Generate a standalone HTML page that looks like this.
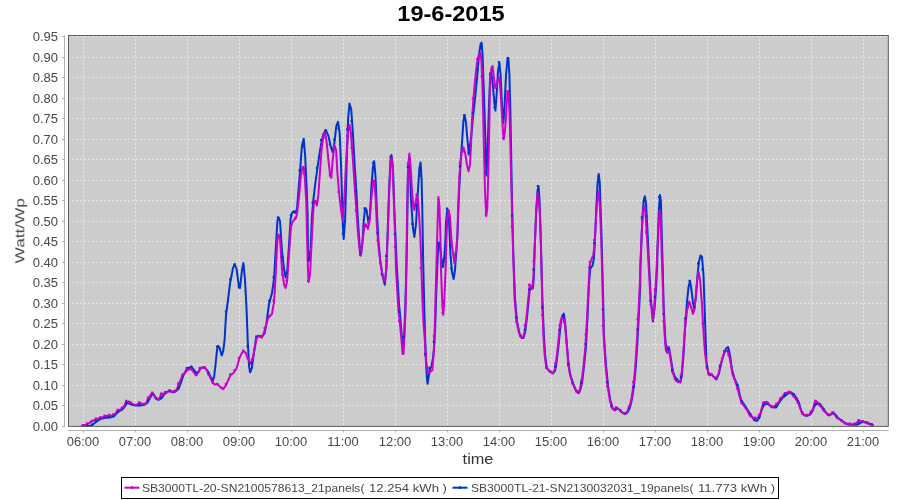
<!DOCTYPE html><html><head><meta charset="utf-8"><title>19-6-2015</title><style>
html,body{margin:0;padding:0;background:#ffffff;}
body{width:900px;height:500px;position:relative;overflow:hidden;font-family:"Liberation Sans",sans-serif;}
.t{position:absolute;white-space:nowrap;line-height:1;color:#484848;will-change:transform;}
.yl{font-size:12px;width:40px;text-align:right;left:17.6px;transform-origin:100% 50%;transform:scaleX(1.085);}
.xl{font-size:12px;width:60px;text-align:center;top:436px;transform:scaleX(1.08);}
</style></head><body>
<svg width="900" height="500" viewBox="0 0 900 500" style="position:absolute;left:0;top:0"><rect x="68.5" y="35.5" width="819.8" height="390.9" fill="#cccccc"/><g stroke="#ffffff" stroke-width="1" stroke-opacity="0.5" stroke-dasharray="2,2" fill="none"><line x1="68" y1="426.5" x2="888" y2="426.5"/><line x1="68" y1="405.5" x2="888" y2="405.5"/><line x1="68" y1="385.5" x2="888" y2="385.5"/><line x1="68" y1="364.5" x2="888" y2="364.5"/><line x1="68" y1="344.5" x2="888" y2="344.5"/><line x1="68" y1="323.5" x2="888" y2="323.5"/><line x1="68" y1="303.5" x2="888" y2="303.5"/><line x1="68" y1="282.5" x2="888" y2="282.5"/><line x1="68" y1="262.5" x2="888" y2="262.5"/><line x1="68" y1="241.5" x2="888" y2="241.5"/><line x1="68" y1="221.5" x2="888" y2="221.5"/><line x1="68" y1="200.5" x2="888" y2="200.5"/><line x1="68" y1="180.5" x2="888" y2="180.5"/><line x1="68" y1="159.5" x2="888" y2="159.5"/><line x1="68" y1="139.5" x2="888" y2="139.5"/><line x1="68" y1="118.5" x2="888" y2="118.5"/><line x1="68" y1="98.5" x2="888" y2="98.5"/><line x1="68" y1="77.5" x2="888" y2="77.5"/><line x1="68" y1="57.5" x2="888" y2="57.5"/><line x1="68" y1="36.5" x2="888" y2="36.5"/><line x1="83.5" y1="35" x2="83.5" y2="426"/><line x1="135.5" y1="35" x2="135.5" y2="426"/><line x1="187.5" y1="35" x2="187.5" y2="426"/><line x1="239.5" y1="35" x2="239.5" y2="426"/><line x1="291.5" y1="35" x2="291.5" y2="426"/><line x1="343.5" y1="35" x2="343.5" y2="426"/><line x1="395.5" y1="35" x2="395.5" y2="426"/><line x1="447.5" y1="35" x2="447.5" y2="426"/><line x1="499.5" y1="35" x2="499.5" y2="426"/><line x1="551.5" y1="35" x2="551.5" y2="426"/><line x1="603.5" y1="35" x2="603.5" y2="426"/><line x1="655.5" y1="35" x2="655.5" y2="426"/><line x1="707.5" y1="35" x2="707.5" y2="426"/><line x1="759.5" y1="35" x2="759.5" y2="426"/><line x1="811.5" y1="35" x2="811.5" y2="426"/><line x1="863.5" y1="35" x2="863.5" y2="426"/></g><path d="M82.4,426.0 L91.4,425.8 L95.6,422.2 L100.4,419.0 L105.2,417.8 L110.6,417.4 L114.2,416.2 L117.8,412.0 L121.4,410.2 L124.4,407.2 L126.8,403.0 L129.8,403.8 L132.8,405.0 L135.8,405.6 L140.0,405.4 L144.2,404.8 L147.2,403.0 L149.6,398.8 L152.0,394.6 L153.2,394.0 L155.6,398.2 L158.6,400.0 L161.6,398.2 L164.0,394.6 L166.4,392.2 L169.4,391.0 L173.0,392.2 L175.5,391.5 L178.4,389.0 L180.5,383.9 L183.3,375.5 L186.8,368.9 L191.3,366.7 L193.8,369.9 L196.6,373.7 L198.7,371.3 L200.8,367.8 L204.8,367.5 L207.8,371.3 L210.6,376.9 L212.7,381.5 L214.1,376.9 L215.5,365.0 L216.9,351.0 L218.0,345.8 L219.7,348.2 L221.8,355.5 L223.2,351.0 L224.6,339.8 L226.0,315.0 L228.0,300.0 L230.0,283.6 L233.0,268.0 L234.6,264.0 L236.6,269.0 L239.0,287.4 L240.0,288.0 L242.0,270.0 L243.4,263.0 L245.0,280.0 L246.6,310.0 L247.7,340.0 L249.1,366.4 L250.1,372.3 L251.9,367.8 L254.0,352.4 L256.1,337.7 L258.2,335.6 L261.7,337.0 L264.5,333.5 L266.6,322.0 L269.0,304.0 L272.0,293.0 L274.0,279.0 L276.0,245.0 L277.4,221.0 L278.6,217.4 L280.0,221.0 L282.0,251.0 L284.0,269.0 L285.6,277.4 L287.0,274.0 L289.0,245.0 L290.6,219.0 L292.0,213.0 L293.4,211.4 L295.4,213.0 L297.0,209.0 L298.4,191.0 L300.0,171.8 L302.0,145.4 L303.7,138.7 L305.1,155.0 L306.8,191.0 L307.6,215.0 L308.0,250.0 L308.8,261.0 L310.6,250.0 L312.0,215.0 L313.3,200.6 L315.2,183.8 L316.9,171.8 L319.3,155.0 L321.7,140.6 L323.6,133.4 L326.0,130.5 L328.4,135.8 L330.8,146.6 L332.7,152.1 L334.4,143.0 L336.3,126.2 L338.0,121.9 L339.7,133.4 L341.1,167.0 L342.2,203.0 L342.8,225.0 L343.7,239.0 L345.1,220.0 L345.9,191.0 L346.9,155.0 L348.1,119.0 L349.5,103.4 L351.2,109.4 L352.9,133.4 L354.8,167.0 L356.2,188.0 L357.9,220.0 L359.6,245.1 L361.0,254.9 L362.4,242.3 L363.8,220.0 L365.2,207.9 L366.6,210.1 L368.6,224.1 L370.0,214.3 L371.4,186.4 L373.0,166.8 L374.2,161.2 L375.6,178.0 L377.0,214.3 L378.4,239.5 L380.3,261.9 L382.6,275.9 L384.8,284.8 L386.2,270.3 L387.6,233.9 L389.0,192.0 L390.4,161.2 L391.5,155.0 L392.9,166.8 L394.3,205.9 L395.2,230.0 L397.0,270.0 L399.0,304.0 L400.6,321.7 L402.5,344.5 L404.1,336.9 L405.2,310.0 L406.0,280.0 L407.0,240.0 L408.0,172.0 L409.3,157.0 L410.0,172.0 L411.0,200.0 L413.0,228.0 L414.4,237.0 L416.0,224.0 L418.0,190.0 L419.4,168.0 L420.6,162.4 L421.6,180.0 L422.3,210.0 L422.8,240.0 L423.2,262.0 L424.2,305.0 L425.2,340.0 L426.0,362.0 L426.9,378.0 L427.6,383.8 L428.7,376.6 L430.0,368.5 L431.4,366.7 L433.0,358.0 L434.1,347.8 L435.2,328.0 L436.0,300.0 L436.8,280.0 L438.0,250.0 L439.0,242.4 L440.0,246.0 L441.6,260.0 L443.0,267.0 L444.4,256.0 L445.5,238.0 L446.0,222.0 L447.4,209.0 L448.6,211.0 L449.5,232.0 L450.4,254.0 L452.0,272.0 L453.6,279.0 L455.0,270.0 L456.4,250.0 L457.6,232.0 L458.5,205.0 L459.8,176.7 L461.0,157.0 L462.2,140.0 L463.4,121.0 L464.6,115.0 L466.0,123.0 L467.0,135.0 L467.8,142.6 L468.9,154.7 L470.4,142.6 L471.4,135.0 L473.0,117.0 L475.0,99.0 L477.0,79.0 L479.0,55.0 L480.6,44.0 L481.6,42.6 L482.6,55.0 L483.6,85.0 L484.6,115.0 L485.4,140.0 L485.9,160.0 L486.5,175.6 L487.4,158.0 L488.2,130.0 L489.0,105.0 L490.2,75.0 L491.4,73.0 L493.0,87.0 L494.4,103.0 L495.4,110.6 L496.6,95.0 L498.0,71.0 L499.4,62.6 L500.6,75.0 L502.0,105.0 L503.4,123.0 L504.6,105.0 L506.0,75.0 L507.4,60.0 L508.4,58.0 L509.4,75.0 L510.4,112.0 L511.1,150.0 L511.8,190.0 L512.6,225.0 L513.4,257.0 L515.1,299.6 L517.0,321.2 L519.4,333.2 L521.8,338.0 L523.5,338.0 L525.2,332.0 L527.1,316.4 L529.0,297.2 L530.2,285.4 L531.7,288.9 L532.9,288.4 L533.9,276.4 L534.7,246.0 L536.2,211.0 L537.5,191.0 L538.5,186.0 L539.6,201.0 L540.6,232.0 L541.5,266.0 L542.4,300.0 L543.9,335.6 L545.1,354.8 L546.8,368.0 L549.9,371.6 L553.0,373.5 L555.2,370.4 L556.6,362.0 L558.3,347.6 L560.0,330.8 L561.2,321.2 L562.1,316.0 L563.8,313.6 L565.2,323.2 L566.9,344.8 L568.3,361.6 L570.0,373.6 L572.7,382.4 L575.1,388.4 L577.0,392.0 L578.7,393.2 L580.4,389.6 L582.3,381.2 L584.2,364.4 L585.9,347.6 L587.6,316.4 L588.6,292.0 L589.3,280.0 L590.3,268.2 L592.5,265.8 L593.9,258.6 L595.1,237.0 L596.3,208.2 L597.5,184.2 L598.7,174.0 L599.7,181.8 L600.6,208.2 L601.6,237.0 L602.4,268.0 L603.2,300.0 L603.9,335.0 L606.0,365.4 L608.1,386.4 L610.5,401.4 L612.9,408.9 L615.0,410.4 L617.1,408.0 L619.5,409.8 L622.5,412.8 L625.5,414.0 L627.9,411.9 L630.0,407.4 L632.1,398.4 L633.9,386.4 L635.4,371.4 L636.9,350.4 L638.1,329.4 L639.3,305.4 L640.3,284.4 L640.4,268.0 L641.2,249.0 L642.4,217.8 L643.6,201.0 L644.8,196.2 L646.0,203.4 L647.2,225.0 L648.9,261.0 L650.0,282.0 L650.8,299.0 L652.5,314.4 L652.9,321.5 L654.6,308.4 L656.1,287.4 L657.1,268.4 L657.5,249.0 L658.7,213.0 L659.9,195.0 L660.9,201.0 L661.8,237.0 L662.8,270.0 L663.6,305.0 L665.1,335.4 L666.3,350.4 L667.5,352.8 L669.0,347.4 L670.5,356.4 L672.9,371.4 L675.0,377.0 L678.0,380.6 L680.4,382.4 L681.9,375.5 L683.4,356.0 L685.2,326.0 L687.0,302.0 L688.5,287.0 L690.0,281.0 L691.5,290.0 L693.0,303.5 L694.5,308.0 L696.0,296.0 L697.5,275.0 L699.0,261.5 L700.5,255.5 L702.0,257.0 L703.5,275.0 L705.0,320.0 L706.5,362.0 L708.6,374.6 L711.0,374.0 L713.4,376.4 L716.4,379.4 L718.8,374.0 L721.2,363.5 L723.6,354.5 L726.0,348.5 L728.1,347.0 L729.9,354.5 L732.0,369.5 L734.4,378.5 L737.8,385.6 L739.8,395.0 L741.4,400.6 L746.2,407.8 L750.4,414.4 L754.0,419.8 L757.0,421.0 L759.4,418.0 L761.8,409.6 L763.6,405.4 L766.0,403.6 L768.4,404.2 L772.0,407.2 L776.2,407.4 L779.2,402.4 L782.2,398.2 L785.2,395.8 L788.2,393.4 L790.6,392.2 L793.6,394.0 L796.6,398.2 L799.0,403.0 L801.4,411.4 L803.8,415.0 L806.8,415.8 L809.8,414.8 L812.0,412.0 L814.5,406.0 L816.5,404.0 L819.0,403.5 L821.5,406.0 L825.0,411.0 L828.5,415.5 L831.0,414.5 L833.5,412.8 L835.5,414.5 L837.5,417.5 L841.0,420.0 L845.0,423.0 L848.0,424.5 L857.0,424.8 L859.5,423.5 L862.5,421.8 L865.0,422.0 L869.0,423.5 L873.0,425.0" fill="none" stroke="#0033cc" stroke-width="2" stroke-linejoin="round" stroke-linecap="round"/><path d="M82.4,425.8 L87.2,424.2 L92.0,421.4 L96.2,419.2 L100.4,418.0 L105.2,416.2 L109.4,415.4 L113.0,415.6 L116.0,412.6 L118.4,410.0 L121.4,409.4 L123.8,406.6 L126.2,401.4 L129.2,401.4 L131.6,403.6 L135.2,405.4 L137.6,404.2 L139.4,402.6 L141.8,403.8 L144.2,404.4 L146.6,402.4 L148.4,398.2 L150.8,394.6 L152.6,393.0 L154.4,395.2 L156.8,399.2 L159.2,398.8 L161.6,393.8 L165.8,393.2 L169.4,390.6 L172.4,391.8 L174.2,392.0 L177.0,389.0 L179.1,383.2 L182.6,375.5 L186.8,370.6 L190.7,368.5 L193.1,371.3 L196.3,375.5 L198.7,372.0 L200.8,368.1 L204.3,367.1 L207.1,370.6 L209.9,376.9 L212.7,382.9 L214.8,384.6 L217.6,384.3 L220.4,387.1 L223.2,389.1 L226.0,385.3 L228.1,380.4 L230.5,375.1 L233.7,372.7 L236.5,368.5 L239.3,358.7 L241.4,353.8 L243.5,351.0 L245.6,352.7 L247.7,358.0 L250.5,363.6 L252.6,359.4 L254.7,348.2 L256.8,338.4 L258.0,336.0 L262.0,337.6 L265.5,328.0 L268.0,318.0 L272.0,314.0 L274.0,302.0 L275.0,288.0 L276.0,267.0 L277.4,240.0 L278.6,234.6 L280.0,239.0 L282.0,270.0 L284.0,284.0 L285.4,288.0 L287.0,282.0 L289.0,255.0 L291.0,227.0 L293.0,221.0 L296.0,218.0 L297.2,212.6 L299.1,195.8 L300.8,176.6 L302.5,167.0 L303.7,167.0 L304.9,179.0 L306.3,203.0 L307.0,235.0 L308.0,271.0 L308.6,282.0 L310.0,275.0 L311.4,247.0 L313.0,215.0 L314.0,201.8 L315.2,200.6 L316.9,205.4 L318.3,195.8 L320.0,171.8 L321.7,147.8 L323.6,134.6 L325.0,132.9 L326.5,140.6 L328.4,159.8 L330.1,175.4 L331.3,177.8 L332.7,159.8 L334.4,145.4 L336.1,150.2 L337.5,174.2 L339.2,194.0 L341.2,211.5 L342.6,219.4 L344.2,200.3 L345.4,176.0 L346.6,153.0 L348.1,131.0 L349.5,125.0 L351.0,133.4 L352.9,159.8 L354.8,188.0 L357.4,225.5 L359.3,247.9 L360.7,255.7 L362.1,245.1 L364.1,228.3 L365.8,224.1 L368.0,228.9 L369.7,220.0 L371.4,197.6 L373.0,182.2 L374.2,180.8 L375.6,197.6 L377.0,228.3 L378.9,250.7 L381.2,267.5 L383.1,277.3 L384.8,281.5 L386.5,267.5 L388.1,225.5 L389.5,183.6 L390.7,162.0 L391.6,157.6 L392.6,166.0 L394.0,206.0 L395.2,240.0 L396.0,270.0 L398.4,310.0 L399.6,320.0 L401.2,337.0 L402.6,354.0 L403.5,354.0 L404.4,337.0 L405.4,315.0 L406.4,270.0 L407.0,215.0 L408.0,168.0 L409.4,153.6 L410.6,166.0 L412.0,190.0 L413.4,207.0 L414.4,210.0 L415.6,202.0 L417.0,194.4 L418.0,200.0 L419.4,220.0 L420.4,238.0 L421.0,256.0 L422.4,300.0 L423.4,322.0 L424.6,337.0 L426.0,360.4 L427.8,372.0 L430.0,372.0 L432.3,370.3 L433.6,355.0 L434.6,332.0 L435.6,295.0 L437.0,245.0 L437.6,222.0 L438.4,197.0 L439.4,206.0 L440.4,235.0 L441.0,270.0 L442.4,306.0 L443.2,315.0 L444.0,306.0 L445.6,270.0 L446.6,235.0 L447.2,220.0 L448.6,210.0 L450.0,217.0 L451.2,236.0 L452.0,246.0 L454.4,263.0 L456.0,254.0 L457.3,238.0 L458.0,212.0 L459.4,176.0 L460.5,162.0 L461.6,152.0 L463.4,147.3 L465.3,154.0 L467.0,165.0 L468.5,171.2 L470.0,164.6 L471.0,146.0 L471.9,122.0 L473.4,99.0 L475.0,81.0 L477.0,63.0 L479.0,54.0 L480.4,53.0 L481.4,61.0 L482.4,85.0 L483.2,115.0 L483.7,138.0 L484.2,160.0 L485.0,191.0 L486.2,216.3 L487.3,208.6 L488.4,169.0 L489.2,130.0 L490.0,85.0 L491.4,68.0 L492.6,66.0 L494.0,79.0 L495.4,88.0 L496.6,86.0 L498.0,78.0 L499.4,78.0 L500.6,93.0 L502.0,115.0 L503.0,132.0 L503.8,139.3 L505.0,130.0 L506.0,118.0 L506.6,105.0 L507.6,91.0 L508.6,93.0 L509.6,115.0 L510.3,142.0 L511.0,172.0 L511.8,204.0 L512.6,235.0 L513.4,259.0 L514.6,299.2 L516.5,320.8 L518.9,332.8 L521.3,337.6 L523.0,337.6 L524.7,331.6 L526.6,316.0 L528.5,296.8 L529.7,285.0 L531.2,288.5 L532.4,288.0 L533.4,276.0 L534.7,248.0 L536.2,213.0 L537.6,193.2 L538.8,200.0 L539.8,213.0 L540.6,235.0 L541.5,268.0 L542.2,300.0 L543.4,335.2 L544.6,354.4 L546.3,367.6 L549.4,371.2 L552.5,373.1 L554.7,370.0 L556.1,361.6 L557.8,347.2 L559.5,330.4 L560.7,320.8 L562.1,317.2 L563.5,318.0 L565.0,325.0 L566.7,344.8 L568.1,361.6 L569.8,373.6 L572.2,382.0 L574.6,388.0 L576.5,391.6 L578.2,392.8 L579.9,389.2 L581.8,380.8 L583.7,364.0 L585.4,347.2 L587.1,316.0 L588.4,290.0 L589.6,265.8 L590.8,261.0 L593.2,255.0 L594.4,246.6 L595.6,225.0 L596.8,205.8 L598.0,193.8 L598.7,191.4 L599.9,205.8 L601.1,237.0 L602.0,268.0 L602.8,300.0 L603.6,335.0 L605.5,365.0 L607.6,386.0 L610.0,401.0 L612.4,408.5 L614.5,410.0 L616.6,407.6 L619.0,409.4 L622.0,412.4 L625.0,413.6 L627.4,411.5 L629.5,407.0 L631.6,398.0 L633.4,386.0 L634.9,371.0 L636.4,350.0 L637.6,329.0 L638.8,305.0 L639.8,284.0 L640.5,261.0 L641.7,232.2 L642.9,213.0 L644.1,205.8 L645.3,210.6 L646.7,232.2 L648.4,261.0 L649.4,280.0 L650.5,299.0 L652.0,314.0 L652.9,320.0 L654.1,308.0 L655.6,287.0 L656.6,268.0 L657.4,250.0 L658.5,227.4 L659.7,211.8 L660.6,215.4 L661.6,249.0 L662.6,280.0 L663.4,305.0 L664.6,335.0 L665.8,350.0 L667.0,352.4 L668.5,347.0 L670.0,356.0 L672.4,371.0 L675.0,379.4 L678.0,382.4 L680.4,381.5 L681.6,374.0 L683.1,356.0 L684.9,329.0 L687.0,311.0 L689.1,301.4 L690.9,306.5 L693.0,314.0 L694.5,309.5 L696.0,293.0 L697.5,278.0 L698.7,272.6 L700.2,281.0 L702.0,305.0 L703.5,332.0 L705.0,353.0 L707.1,368.0 L709.5,375.5 L711.6,374.6 L714.0,377.0 L716.4,378.5 L718.5,374.0 L720.6,365.0 L723.0,356.0 L725.1,351.5 L727.5,350.6 L729.6,357.5 L732.0,371.0 L734.2,378.4 L737.2,386.8 L739.6,396.4 L742.0,403.6 L746.2,408.4 L749.8,415.6 L753.4,418.0 L757.6,418.6 L760.0,414.4 L762.4,406.0 L764.2,402.2 L766.6,401.8 L769.0,404.2 L772.0,407.0 L775.0,406.0 L777.4,403.6 L780.4,399.4 L784.0,394.6 L786.4,392.8 L789.4,392.0 L791.8,394.0 L794.8,397.6 L797.8,401.8 L800.2,408.4 L802.6,413.8 L805.6,415.6 L809.0,415.0 L811.5,412.0 L813.5,407.0 L815.0,401.5 L816.5,401.2 L818.5,403.5 L821.0,407.0 L825.0,412.0 L828.5,415.2 L831.0,414.0 L833.0,412.8 L835.0,415.0 L837.0,418.0 L841.0,420.5 L845.0,423.5 L849.0,424.0 L852.0,424.5 L855.0,424.0 L857.0,422.5 L859.0,420.5 L862.0,421.5 L865.0,422.5 L869.0,424.0 L873.0,425.5" fill="none" stroke="#cc00cc" stroke-width="2" stroke-linejoin="round" stroke-linecap="round"/><path d="M81.8,424.4h2.2v2.2h-2.2zM86.1,424.3h2.2v2.2h-2.2zM90.5,423.6h2.2v2.2h-2.2zM94.8,420.1h2.2v2.2h-2.2zM99.1,417.3h2.2v2.2h-2.2zM103.5,416.2h2.2v2.2h-2.2zM107.8,415.9h2.2v2.2h-2.2zM112.1,414.8h2.2v2.2h-2.2zM116.5,410.3h2.2v2.2h-2.2zM120.8,407.6h2.2v2.2h-2.2zM125.1,401.5h2.2v2.2h-2.2zM129.5,402.7h2.2v2.2h-2.2zM133.8,403.9h2.2v2.2h-2.2zM138.1,403.8h2.2v2.2h-2.2zM142.5,403.2h2.2v2.2h-2.2zM146.8,399.3h2.2v2.2h-2.2zM151.1,392.6h2.2v2.2h-2.2zM155.5,397.5h2.2v2.2h-2.2zM159.8,396.7h2.2v2.2h-2.2zM164.1,391.3h2.2v2.2h-2.2zM168.5,389.6h2.2v2.2h-2.2zM172.8,390.2h2.2v2.2h-2.2zM177.1,386.6h2.2v2.2h-2.2zM181.5,374.6h2.2v2.2h-2.2zM185.8,367.0h2.2v2.2h-2.2zM190.1,365.7h2.2v2.2h-2.2zM194.5,371.4h2.2v2.2h-2.2zM198.8,366.9h2.2v2.2h-2.2zM203.1,365.9h2.2v2.2h-2.2zM207.5,372.2h2.2v2.2h-2.2zM211.8,377.6h2.2v2.2h-2.2zM216.1,345.5h2.2v2.2h-2.2zM220.5,353.0h2.2v2.2h-2.2zM224.8,310.4h2.2v2.2h-2.2zM229.1,278.2h2.2v2.2h-2.2zM233.5,263.6h2.2v2.2h-2.2zM237.8,286.0h2.2v2.2h-2.2zM242.1,264.9h2.2v2.2h-2.2zM246.5,345.3h2.2v2.2h-2.2zM250.8,362.5h2.2v2.2h-2.2zM255.1,335.5h2.2v2.2h-2.2zM259.5,335.1h2.2v2.2h-2.2zM263.8,327.0h2.2v2.2h-2.2zM268.1,299.7h2.2v2.2h-2.2zM272.5,276.3h2.2v2.2h-2.2zM276.8,216.4h2.2v2.2h-2.2zM281.1,256.0h2.2v2.2h-2.2zM285.5,271.4h2.2v2.2h-2.2zM289.8,214.0h2.2v2.2h-2.2zM294.1,210.6h2.2v2.2h-2.2zM298.5,169.3h2.2v2.2h-2.2zM302.8,145.2h2.2v2.2h-2.2zM307.1,258.5h2.2v2.2h-2.2zM311.5,201.6h2.2v2.2h-2.2zM315.8,166.7h2.2v2.2h-2.2zM320.1,138.9h2.2v2.2h-2.2zM324.5,129.0h2.2v2.2h-2.2zM328.8,143.2h2.2v2.2h-2.2zM333.1,138.5h2.2v2.2h-2.2zM337.5,127.5h2.2v2.2h-2.2zM341.8,232.7h2.2v2.2h-2.2zM346.1,128.4h2.2v2.2h-2.2zM350.5,120.0h2.2v2.2h-2.2zM354.8,190.2h2.2v2.2h-2.2zM359.1,251.4h2.2v2.2h-2.2zM363.5,207.5h2.2v2.2h-2.2zM367.8,216.9h2.2v2.2h-2.2zM372.1,161.8h2.2v2.2h-2.2zM376.5,231.9h2.2v2.2h-2.2zM380.8,273.1h2.2v2.2h-2.2zM385.1,254.8h2.2v2.2h-2.2zM389.5,155.8h2.2v2.2h-2.2zM393.8,232.8h2.2v2.2h-2.2zM398.1,310.5h2.2v2.2h-2.2zM402.5,335.5h2.2v2.2h-2.2zM406.8,165.8h2.2v2.2h-2.2zM411.1,222.7h2.2v2.2h-2.2zM415.5,204.3h2.2v2.2h-2.2zM419.8,174.9h2.2v2.2h-2.2zM424.1,353.1h2.2v2.2h-2.2zM428.5,366.8h2.2v2.2h-2.2zM432.8,340.8h2.2v2.2h-2.2zM437.1,242.8h2.2v2.2h-2.2zM441.5,264.9h2.2v2.2h-2.2zM445.8,207.4h2.2v2.2h-2.2zM450.1,267.4h2.2v2.2h-2.2zM454.5,253.2h2.2v2.2h-2.2zM458.8,165.3h2.2v2.2h-2.2zM463.1,114.2h2.2v2.2h-2.2zM467.5,151.8h2.2v2.2h-2.2zM471.8,111.8h2.2v2.2h-2.2zM476.1,68.6h2.2v2.2h-2.2zM480.5,46.8h2.2v2.2h-2.2zM484.8,171.4h2.2v2.2h-2.2zM489.1,72.5h2.2v2.2h-2.2zM493.5,106.5h2.2v2.2h-2.2zM497.8,61.0h2.2v2.2h-2.2zM502.1,116.4h2.2v2.2h-2.2zM506.5,57.1h2.2v2.2h-2.2zM510.8,214.6h2.2v2.2h-2.2zM515.1,316.6h2.2v2.2h-2.2zM519.5,334.9h2.2v2.2h-2.2zM523.8,328.8h2.2v2.2h-2.2zM528.1,288.4h2.2v2.2h-2.2zM532.5,268.5h2.2v2.2h-2.2zM536.8,184.9h2.2v2.2h-2.2zM541.1,306.3h2.2v2.2h-2.2zM545.5,366.7h2.2v2.2h-2.2zM549.8,370.9h2.2v2.2h-2.2zM554.1,365.6h2.2v2.2h-2.2zM558.5,328.7h2.2v2.2h-2.2zM562.8,316.1h2.2v2.2h-2.2zM567.1,363.1h2.2v2.2h-2.2zM571.5,381.7h2.2v2.2h-2.2zM575.8,390.7h2.2v2.2h-2.2zM580.1,382.1h2.2v2.2h-2.2zM584.5,342.9h2.2v2.2h-2.2zM588.8,266.5h2.2v2.2h-2.2zM593.1,242.0h2.2v2.2h-2.2zM597.5,175.3h2.2v2.2h-2.2zM601.8,308.4h2.2v2.2h-2.2zM606.1,381.1h2.2v2.2h-2.2zM610.5,404.7h2.2v2.2h-2.2zM614.8,407.2h2.2v2.2h-2.2zM619.1,409.4h2.2v2.2h-2.2zM623.5,412.2h2.2v2.2h-2.2zM627.8,407.1h2.2v2.2h-2.2zM632.1,385.9h2.2v2.2h-2.2zM636.5,328.4h2.2v2.2h-2.2zM640.8,216.2h2.2v2.2h-2.2zM645.1,215.0h2.2v2.2h-2.2zM649.5,299.8h2.2v2.2h-2.2zM653.8,295.6h2.2v2.2h-2.2zM658.1,195.9h2.2v2.2h-2.2zM662.5,312.9h2.2v2.2h-2.2zM666.8,348.0h2.2v2.2h-2.2zM671.1,368.8h2.2v2.2h-2.2zM675.5,377.9h2.2v2.2h-2.2zM679.8,376.2h2.2v2.2h-2.2zM684.1,317.3h2.2v2.2h-2.2zM688.5,279.8h2.2v2.2h-2.2zM692.8,306.1h2.2v2.2h-2.2zM697.1,262.3h2.2v2.2h-2.2zM701.5,268.2h2.2v2.2h-2.2zM705.8,365.8h2.2v2.2h-2.2zM710.1,373.1h2.2v2.2h-2.2zM714.5,377.5h2.2v2.2h-2.2zM718.8,365.4h2.2v2.2h-2.2zM723.1,350.1h2.2v2.2h-2.2zM727.5,349.4h2.2v2.2h-2.2zM731.8,373.1h2.2v2.2h-2.2zM736.1,383.9h2.2v2.2h-2.2zM740.5,400.0h2.2v2.2h-2.2zM744.8,406.5h2.2v2.2h-2.2zM749.1,413.3h2.2v2.2h-2.2zM753.5,418.6h2.2v2.2h-2.2zM757.8,416.4h2.2v2.2h-2.2zM762.1,403.7h2.2v2.2h-2.2zM766.5,402.5h2.2v2.2h-2.2zM770.8,405.6h2.2v2.2h-2.2zM775.1,404.9h2.2v2.2h-2.2zM779.5,398.2h2.2v2.2h-2.2zM783.8,394.0h2.2v2.2h-2.2zM788.1,391.0h2.2v2.2h-2.2zM792.5,393.1h2.2v2.2h-2.2zM796.8,400.2h2.2v2.2h-2.2zM801.1,411.8h2.2v2.2h-2.2zM805.5,414.1h2.2v2.2h-2.2zM809.8,411.2h2.2v2.2h-2.2zM814.1,403.2h2.2v2.2h-2.2zM818.5,403.0h2.2v2.2h-2.2zM822.8,408.5h2.2v2.2h-2.2zM827.1,413.8h2.2v2.2h-2.2zM831.5,411.5h2.2v2.2h-2.2zM835.8,415.7h2.2v2.2h-2.2zM840.1,418.9h2.2v2.2h-2.2zM844.5,421.9h2.2v2.2h-2.2zM848.8,423.0h2.2v2.2h-2.2zM853.1,423.1h2.2v2.2h-2.2zM857.5,422.1h2.2v2.2h-2.2zM861.8,420.3h2.2v2.2h-2.2zM866.1,421.4h2.2v2.2h-2.2zM870.5,423.0h2.2v2.2h-2.2z" fill="#0033cc"/><path d="M81.8,423.9h2.2v2.2h-2.2zM86.1,422.3h2.2v2.2h-2.2zM90.5,419.8h2.2v2.2h-2.2zM94.8,417.5h2.2v2.2h-2.2zM99.1,416.3h2.2v2.2h-2.2zM103.5,414.6h2.2v2.2h-2.2zM107.8,413.8h2.2v2.2h-2.2zM112.1,413.3h2.2v2.2h-2.2zM116.5,408.8h2.2v2.2h-2.2zM120.8,406.6h2.2v2.2h-2.2zM125.1,399.8h2.2v2.2h-2.2zM129.5,401.5h2.2v2.2h-2.2zM133.8,403.7h2.2v2.2h-2.2zM138.1,401.2h2.2v2.2h-2.2zM142.5,402.8h2.2v2.2h-2.2zM146.8,396.6h2.2v2.2h-2.2zM151.1,391.6h2.2v2.2h-2.2zM155.5,397.6h2.2v2.2h-2.2zM159.8,392.6h2.2v2.2h-2.2zM164.1,391.6h2.2v2.2h-2.2zM168.5,389.3h2.2v2.2h-2.2zM172.8,390.2h2.2v2.2h-2.2zM177.1,382.6h2.2v2.2h-2.2zM181.5,373.4h2.2v2.2h-2.2zM185.8,368.7h2.2v2.2h-2.2zM190.1,368.1h2.2v2.2h-2.2zM194.5,373.6h2.2v2.2h-2.2zM198.8,367.2h2.2v2.2h-2.2zM203.1,366.0h2.2v2.2h-2.2zM207.5,373.4h2.2v2.2h-2.2zM211.8,381.9h2.2v2.2h-2.2zM216.1,382.8h2.2v2.2h-2.2zM220.5,386.7h2.2v2.2h-2.2zM224.8,382.8h2.2v2.2h-2.2zM229.1,373.3h2.2v2.2h-2.2zM233.5,369.0h2.2v2.2h-2.2zM237.8,356.9h2.2v2.2h-2.2zM242.1,349.6h2.2v2.2h-2.2zM246.5,357.1h2.2v2.2h-2.2zM250.8,358.2h2.2v2.2h-2.2zM255.1,337.1h2.2v2.2h-2.2zM259.5,335.6h2.2v2.2h-2.2zM263.8,326.7h2.2v2.2h-2.2zM268.1,314.7h2.2v2.2h-2.2zM272.5,299.5h2.2v2.2h-2.2zM276.8,233.9h2.2v2.2h-2.2zM281.1,273.5h2.2v2.2h-2.2zM285.5,279.5h2.2v2.2h-2.2zM289.8,224.2h2.2v2.2h-2.2zM294.1,216.7h2.2v2.2h-2.2zM298.5,183.3h2.2v2.2h-2.2zM302.8,172.4h2.2v2.2h-2.2zM307.1,279.7h2.2v2.2h-2.2zM311.5,212.5h2.2v2.2h-2.2zM315.8,200.4h2.2v2.2h-2.2zM320.1,146.0h2.2v2.2h-2.2zM324.5,136.8h2.2v2.2h-2.2zM328.8,174.4h2.2v2.2h-2.2zM333.1,144.7h2.2v2.2h-2.2zM337.5,190.8h2.2v2.2h-2.2zM341.8,208.3h2.2v2.2h-2.2zM346.1,134.8h2.2v2.2h-2.2zM350.5,146.6h2.2v2.2h-2.2zM354.8,209.5h2.2v2.2h-2.2zM359.1,253.8h2.2v2.2h-2.2zM363.5,224.3h2.2v2.2h-2.2zM367.8,220.0h2.2v2.2h-2.2zM372.1,179.7h2.2v2.2h-2.2zM376.5,239.3h2.2v2.2h-2.2zM380.8,272.1h2.2v2.2h-2.2zM385.1,259.8h2.2v2.2h-2.2zM389.5,158.6h2.2v2.2h-2.2zM393.8,245.9h2.2v2.2h-2.2zM398.1,319.8h2.2v2.2h-2.2zM402.5,341.7h2.2v2.2h-2.2zM406.8,162.3h2.2v2.2h-2.2zM411.1,197.3h2.2v2.2h-2.2zM415.5,193.2h2.2v2.2h-2.2zM419.8,267.0h2.2v2.2h-2.2zM424.1,354.3h2.2v2.2h-2.2zM428.5,370.4h2.2v2.2h-2.2zM432.8,335.0h2.2v2.2h-2.2zM437.1,198.4h2.2v2.2h-2.2zM441.5,311.9h2.2v2.2h-2.2zM445.8,217.0h2.2v2.2h-2.2zM450.1,241.1h2.2v2.2h-2.2zM454.5,251.6h2.2v2.2h-2.2zM458.8,161.7h2.2v2.2h-2.2zM463.1,150.4h2.2v2.2h-2.2zM467.5,167.1h2.2v2.2h-2.2zM471.8,97.4h2.2v2.2h-2.2zM476.1,58.1h2.2v2.2h-2.2zM480.5,75.4h2.2v2.2h-2.2zM484.8,213.3h2.2v2.2h-2.2zM489.1,74.5h2.2v2.2h-2.2zM493.5,84.3h2.2v2.2h-2.2zM497.8,76.4h2.2v2.2h-2.2zM502.1,137.1h2.2v2.2h-2.2zM506.5,90.3h2.2v2.2h-2.2zM510.8,225.6h2.2v2.2h-2.2zM515.1,320.4h2.2v2.2h-2.2zM519.5,335.5h2.2v2.2h-2.2zM523.8,324.3h2.2v2.2h-2.2zM528.1,283.5h2.2v2.2h-2.2zM532.5,260.0h2.2v2.2h-2.2zM536.8,196.1h2.2v2.2h-2.2zM541.1,314.0h2.2v2.2h-2.2zM545.5,366.9h2.2v2.2h-2.2zM549.8,370.8h2.2v2.2h-2.2zM554.1,362.2h2.2v2.2h-2.2zM558.5,324.3h2.2v2.2h-2.2zM562.8,320.6h2.2v2.2h-2.2zM567.1,364.5h2.2v2.2h-2.2zM571.5,382.6h2.2v2.2h-2.2zM575.8,390.6h2.2v2.2h-2.2zM580.1,379.5h2.2v2.2h-2.2zM584.5,333.4h2.2v2.2h-2.2zM588.8,261.0h2.2v2.2h-2.2zM593.1,239.0h2.2v2.2h-2.2zM597.5,194.2h2.2v2.2h-2.2zM601.8,324.6h2.2v2.2h-2.2zM606.1,385.2h2.2v2.2h-2.2zM610.5,405.9h2.2v2.2h-2.2zM614.8,406.2h2.2v2.2h-2.2zM619.1,409.5h2.2v2.2h-2.2zM623.5,411.9h2.2v2.2h-2.2zM627.8,405.6h2.2v2.2h-2.2zM632.1,381.1h2.2v2.2h-2.2zM636.5,318.1h2.2v2.2h-2.2zM640.8,219.4h2.2v2.2h-2.2zM645.1,231.2h2.2v2.2h-2.2zM649.5,303.1h2.2v2.2h-2.2zM653.8,288.2h2.2v2.2h-2.2zM658.1,210.3h2.2v2.2h-2.2zM662.5,320.1h2.2v2.2h-2.2zM666.8,345.8h2.2v2.2h-2.2zM671.1,370.5h2.2v2.2h-2.2zM675.5,379.9h2.2v2.2h-2.2zM679.8,373.7h2.2v2.2h-2.2zM684.1,320.3h2.2v2.2h-2.2zM688.5,302.5h2.2v2.2h-2.2zM692.8,308.2h2.2v2.2h-2.2zM697.1,271.2h2.2v2.2h-2.2zM701.5,322.6h2.2v2.2h-2.2zM705.8,367.3h2.2v2.2h-2.2zM710.1,373.1h2.2v2.2h-2.2zM714.5,376.7h2.2v2.2h-2.2zM718.8,364.3h2.2v2.2h-2.2zM723.1,350.7h2.2v2.2h-2.2zM727.5,354.1h2.2v2.2h-2.2zM731.8,374.1h2.2v2.2h-2.2zM736.1,387.3h2.2v2.2h-2.2zM740.5,402.1h2.2v2.2h-2.2zM744.8,407.2h2.2v2.2h-2.2zM749.1,414.6h2.2v2.2h-2.2zM753.5,416.6h2.2v2.2h-2.2zM757.8,413.9h2.2v2.2h-2.2zM762.1,401.6h2.2v2.2h-2.2zM766.5,401.7h2.2v2.2h-2.2zM770.8,405.3h2.2v2.2h-2.2zM775.1,402.7h2.2v2.2h-2.2zM779.5,396.9h2.2v2.2h-2.2zM783.8,391.9h2.2v2.2h-2.2zM788.1,390.7h2.2v2.2h-2.2zM792.5,395.1h2.2v2.2h-2.2zM796.8,401.8h2.2v2.2h-2.2zM801.1,412.3h2.2v2.2h-2.2zM805.5,413.7h2.2v2.2h-2.2zM809.8,410.5h2.2v2.2h-2.2zM814.1,399.8h2.2v2.2h-2.2zM818.5,404.1h2.2v2.2h-2.2zM822.8,409.6h2.2v2.2h-2.2zM827.1,413.5h2.2v2.2h-2.2zM831.5,411.3h2.2v2.2h-2.2zM835.8,416.6h2.2v2.2h-2.2zM840.1,419.4h2.2v2.2h-2.2zM844.5,422.0h2.2v2.2h-2.2zM848.8,422.6h2.2v2.2h-2.2zM853.1,422.4h2.2v2.2h-2.2zM857.5,418.9h2.2v2.2h-2.2zM861.8,420.4h2.2v2.2h-2.2zM866.1,421.9h2.2v2.2h-2.2zM870.5,423.5h2.2v2.2h-2.2z" fill="#cc00cc"/><rect x="68.5" y="35.5" width="819.8" height="390.9" fill="none" stroke="#5e5e5e" stroke-width="1"/><g stroke="#b0b0b0" stroke-width="1" fill="none"><line x1="64.5" y1="35" x2="64.5" y2="426.8"/><line x1="62" y1="426.5" x2="64.5" y2="426.5"/><line x1="62" y1="405.5" x2="64.5" y2="405.5"/><line x1="62" y1="385.5" x2="64.5" y2="385.5"/><line x1="62" y1="364.5" x2="64.5" y2="364.5"/><line x1="62" y1="344.5" x2="64.5" y2="344.5"/><line x1="62" y1="323.5" x2="64.5" y2="323.5"/><line x1="62" y1="303.5" x2="64.5" y2="303.5"/><line x1="62" y1="282.5" x2="64.5" y2="282.5"/><line x1="62" y1="262.5" x2="64.5" y2="262.5"/><line x1="62" y1="241.5" x2="64.5" y2="241.5"/><line x1="62" y1="221.5" x2="64.5" y2="221.5"/><line x1="62" y1="200.5" x2="64.5" y2="200.5"/><line x1="62" y1="180.5" x2="64.5" y2="180.5"/><line x1="62" y1="159.5" x2="64.5" y2="159.5"/><line x1="62" y1="139.5" x2="64.5" y2="139.5"/><line x1="62" y1="118.5" x2="64.5" y2="118.5"/><line x1="62" y1="98.5" x2="64.5" y2="98.5"/><line x1="62" y1="77.5" x2="64.5" y2="77.5"/><line x1="62" y1="57.5" x2="64.5" y2="57.5"/><line x1="62" y1="36.5" x2="64.5" y2="36.5"/><line x1="68" y1="430.5" x2="888.8" y2="430.5"/><line x1="83.5" y1="430.5" x2="83.5" y2="432.5"/><line x1="135.5" y1="430.5" x2="135.5" y2="432.5"/><line x1="187.5" y1="430.5" x2="187.5" y2="432.5"/><line x1="239.5" y1="430.5" x2="239.5" y2="432.5"/><line x1="291.5" y1="430.5" x2="291.5" y2="432.5"/><line x1="343.5" y1="430.5" x2="343.5" y2="432.5"/><line x1="395.5" y1="430.5" x2="395.5" y2="432.5"/><line x1="447.5" y1="430.5" x2="447.5" y2="432.5"/><line x1="499.5" y1="430.5" x2="499.5" y2="432.5"/><line x1="551.5" y1="430.5" x2="551.5" y2="432.5"/><line x1="603.5" y1="430.5" x2="603.5" y2="432.5"/><line x1="655.5" y1="430.5" x2="655.5" y2="432.5"/><line x1="707.5" y1="430.5" x2="707.5" y2="432.5"/><line x1="759.5" y1="430.5" x2="759.5" y2="432.5"/><line x1="811.5" y1="430.5" x2="811.5" y2="432.5"/><line x1="863.5" y1="430.5" x2="863.5" y2="432.5"/></g><rect x="121.5" y="477.5" width="657" height="21" fill="#ffffff" stroke="#000000" stroke-width="1"/><line x1="124.5" y1="487.7" x2="139.5" y2="487.7" stroke="#cc00cc" stroke-width="2"/><line x1="452.5" y1="487.7" x2="467.5" y2="487.7" stroke="#0033cc" stroke-width="2"/><circle cx="132" cy="487.7" r="1.4" fill="#cc00cc"/><circle cx="460" cy="487.7" r="1.4" fill="#0033cc"/></svg>
<div class="t" id="title" style="left:350px;width:202px;top:2.6px;text-align:center;font-size:21.6px;font-weight:bold;color:#000;transform:scaleX(1.09);">19-6-2015</div>
<div class="t yl" style="top:420.6px">0.00</div>
<div class="t yl" style="top:399.6px">0.05</div>
<div class="t yl" style="top:379.6px">0.10</div>
<div class="t yl" style="top:358.6px">0.15</div>
<div class="t yl" style="top:338.6px">0.20</div>
<div class="t yl" style="top:317.6px">0.25</div>
<div class="t yl" style="top:297.6px">0.30</div>
<div class="t yl" style="top:276.6px">0.35</div>
<div class="t yl" style="top:256.6px">0.40</div>
<div class="t yl" style="top:235.6px">0.45</div>
<div class="t yl" style="top:215.6px">0.50</div>
<div class="t yl" style="top:194.6px">0.55</div>
<div class="t yl" style="top:174.6px">0.60</div>
<div class="t yl" style="top:153.6px">0.65</div>
<div class="t yl" style="top:133.6px">0.70</div>
<div class="t yl" style="top:112.6px">0.75</div>
<div class="t yl" style="top:92.6px">0.80</div>
<div class="t yl" style="top:71.6px">0.85</div>
<div class="t yl" style="top:51.6px">0.90</div>
<div class="t yl" style="top:30.6px">0.95</div>
<div class="t xl" style="left:53.4px">06:00</div>
<div class="t xl" style="left:105.4px">07:00</div>
<div class="t xl" style="left:157.4px">08:00</div>
<div class="t xl" style="left:209.4px">09:00</div>
<div class="t xl" style="left:261.4px">10:00</div>
<div class="t xl" style="left:313.4px">11:00</div>
<div class="t xl" style="left:365.4px">12:00</div>
<div class="t xl" style="left:417.4px">13:00</div>
<div class="t xl" style="left:469.4px">14:00</div>
<div class="t xl" style="left:521.4px">15:00</div>
<div class="t xl" style="left:573.4px">16:00</div>
<div class="t xl" style="left:625.4px">17:00</div>
<div class="t xl" style="left:677.4px">18:00</div>
<div class="t xl" style="left:729.4px">19:00</div>
<div class="t xl" style="left:781.4px">20:00</div>
<div class="t xl" style="left:833.4px">21:00</div>
<div class="t" id="xlab" style="left:428px;width:100px;top:452.4px;text-align:center;font-size:14.5px;color:#333;transform:scaleX(1.124);">time</div>
<div class="t" id="ylab" style="left:-30px;width:100px;top:224px;text-align:center;font-size:13.4px;transform:rotate(-90deg) scaleX(1.285);">Watt/Wp</div>
<div class="t lg" id="lg1" style="left:142.4px;top:482.7px;font-size:11.5px;transform-origin:0 50%;transform:scaleX(1.051);">SB3000TL-20-SN2100578613_21panels(</div>
<div class="t lg" id="lg1b" style="left:369.2px;top:482.7px;font-size:11.5px;transform-origin:0 50%;transform:scaleX(1.14);">12.254 kWh )</div>
<div class="t lg" id="lg2" style="left:470.9px;top:482.7px;font-size:11.5px;transform-origin:0 50%;transform:scaleX(1.051);">SB3000TL-21-SN2130032031_19panels(</div>
<div class="t lg" id="lg2b" style="left:697.7px;top:482.7px;font-size:11.5px;transform-origin:0 50%;transform:scaleX(1.14);">11.773 kWh )</div>
</body></html>
